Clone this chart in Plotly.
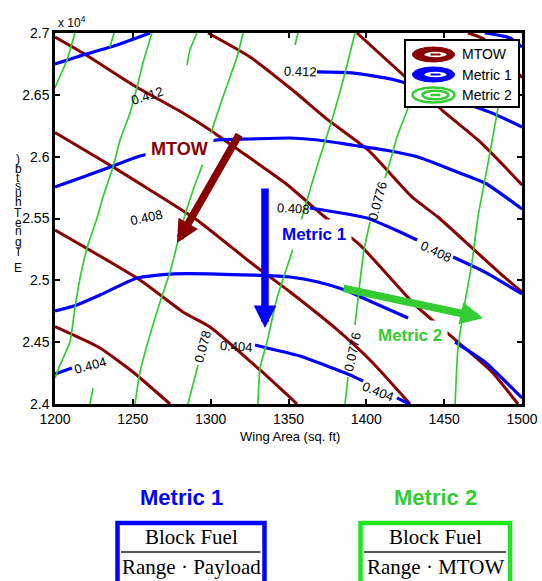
import plotly.graph_objects as go

# ---------------------------------------------------------------------------
# Contour lines: wing area (sq. ft) vs engine thrust (lbf)
# ---------------------------------------------------------------------------
MTOW_WING = [
    [1200, 1228.9, 1250.1, 1273.9],
    [1200, 1254.6, 1282.2, 1299.6, 1331.7, 1355.5],
    [1200, 1237.3, 1261.0, 1291.2, 1325.3, 1351.0, 1379.9, 1403.6, 1428.1],
    [1200, 1218.0, 1250.1, 1282.2, 1299.6, 1318.8, 1347.8, 1373.4, 1395.9, 1431.3, 1458.9, 1480.7, 1497.4],
    [1298.3, 1325.3, 1351.0, 1375.4, 1401.1, 1429.3, 1446.0, 1467.9, 1487.2, 1500],
    [1394.0, 1448.6, 1471.7, 1489.1, 1500],
    [1465.3, 1475.0, 1500],
]
MTOW_THRUST = [
    [24625, 24453, 24259, 24000],
    [25407, 25003, 24744, 24623, 24275, 24000],
    [26195, 25916, 25731, 25488, 25148, 24906, 24615, 24340, 24000],
    [26968, 26838, 26580, 26353, 26216, 26046, 25787, 25512, 25286, 24801, 24501, 24259, 24000],
    [27000, 26806, 26555, 26297, 26054, 25674, 25512, 25262, 25043, 24906],
    [27000, 26377, 26135, 25916, 25771],
    [27000, 26955, 26640],
]

METRIC1_WING = [
    [1200, 1218.0, 1239.8, 1261.0],
    [1368.3, 1390.8, 1418.4, 1480.7, 1500],
    [1476.2, 1492.3, 1500],
    [1200, 1218.0, 1237.3, 1254.6, 1304.1, 1325.3, 1351.0, 1369.0, 1390.8, 1412.0, 1433.2, 1455.0, 1476.2, 1500],
    [1363.8, 1400.4, 1421.6, 1432.6],
    [1455.7, 1476.2, 1500],
    [1200, 1214.1, 1228.9, 1252.7, 1273.9, 1304.1, 1351.0, 1369.0, 1386.3, 1403.6, 1426.8],
    [1457.0, 1476.2, 1500],
    [1200, 1210.9],
    [1328.5, 1336.2, 1357.4, 1389.5, 1397.9],
    [1419.7, 1427.5],
]
METRIC1_THRUST = [
    [26749, 26822, 26903, 27000],
    [26685, 26677, 26620, 26353, 26240],
    [27000, 26960, 26887],
    [25755, 25836, 25925, 26005, 26135, 26143, 26151, 26135, 26094, 26054, 25997, 25892, 25787, 25577],
    [25585, 25504, 25391, 25326],
    [25189, 25067, 24890],
    [24752, 24801, 24881, 25019, 25051, 25051, 25027, 24987, 24922, 24825, 24696],
    [24501, 24340, 24049],
    [24243, 24291],
    [24477, 24453, 24388, 24235, 24186],
    [24049, 24000],
]

METRIC2_WING = [
    [1212.8, 1207.7, 1201.3, 1200],
    [1237.9, 1235.3],
    [1262.3, 1256.5, 1252.7, 1248.2, 1241.8, 1237.3, 1230.8, 1227.0, 1220.6, 1216.1, 1212.8, 1209.6, 1203.2, 1200],
    [1291.2, 1286.7, 1284.8],
    [1320.8, 1316.9, 1307.9, 1301.5, 1295.1, 1288.7, 1283.5, 1278.4, 1273.9, 1267.5, 1261.0, 1254.6, 1251.4],
    [1356.1, 1354.2],
    [1392.7, 1386.3, 1377.9, 1369.0, 1360.6, 1355.5, 1351.0, 1342.6, 1336.2, 1331.7, 1330.4],
    [1426.8, 1419.7, 1416.5, 1412.0],
    [1402.4, 1398.5, 1395.9, 1392.7],
    [1388.2, 1386.3],
    [1484.6, 1478.2, 1471.7, 1467.9, 1463.4, 1458.9, 1457.0],
    [1224.4, 1222.5],
    [1291.9, 1285.4],
]
METRIC2_THRUST = [
    [27000, 26782, 26596, 26555],
    [27000, 26887],
    [27000, 26757, 26563, 26353, 26135, 25916, 25674, 25504, 25262, 25019, 24776, 24501, 24315, 24210],
    [27000, 26863, 26741],
    [27000, 26806, 26482, 26240, 25949, 25731, 25528, 25286, 25067, 24825, 24558, 24259, 24000],
    [27000, 26903],
    [27000, 26677, 26297, 25949, 25593, 25367, 25181, 24857, 24501, 24291, 24000],
    [26394, 26159, 26014, 25828],
    [25472, 25245, 24987, 24639],
    [24218, 24000],
    [26394, 25949, 25512, 25148, 24825, 24453, 24000],
    [24129, 24000],
    [24315, 24000],
]

# Inline contour labels
LABEL_TEXT = ["0.412", "0.412", "0.408", "0.408", "0.408", "0.0776",
              "0.078", "0.404", "0.404", "0.0776", "0.404"]
LABEL_WING = [1259.7, 1358.0, 1258.5, 1352.9, 1444.8, 1407.5,
              1295.1, 1316.9, 1222.5, 1391.4, 1407.5]
LABEL_THRUST = [26491, 26685, 25512, 25577, 25237, 25642,
                24461, 24469, 24315, 24421, 24105]
LABEL_ANGLE = [-18, 2, -12, 3, 25, -75, -75, 3, -15, -78, 22]

# Direction-of-improvement arrows
ARROW_NAMES = ["MTOW", "Metric 1", "Metric 2"]
ARROW_TAIL_WING = [1318.8, 1334.9, 1384.4]
ARROW_TAIL_THRUST = [26191, 25755, 24938]
ARROW_TIP_WING = [1278.4, 1334.9, 1474.9]
ARROW_TIP_THRUST = [25302, 24615, 24696]
ARROW_TEXT_WING = [1279.7, 1366.4, 1428.1]
ARROW_TEXT_THRUST = [26062, 25367, 24550]

X_TICKS = [1200, 1250, 1300, 1350, 1400, 1450, 1500]
Y_TICKS = [24000, 24500, 25000, 25500, 26000, 26500, 27000]
Y_TICK_TEXT = ["2.4", "2.45", "2.5", "2.55", "2.6", "2.65", "2.7"]

# Y-axis title glyphs, stacked top to bottom
Y_TITLE_GLYPHS = [")", "b", "t", "s", "u", "h", "T", "e", "n", "g", "i", "E"]
Y_TITLE_ROWS = [159, 169, 178, 186, 193, 202, 213, 223, 231, 242, 252, 268]

LEGEND_NAMES = ["MTOW", "Metric 1", "Metric 2"]

RED = "#880000"
BLUE = "#0000ff"
GREEN = "#33cc33"
BOX_GREEN = "#1ee61e"
SANS = "Liberation Sans, Arial, Helvetica, sans-serif"
SERIF = "Liberation Serif, Times New Roman, serif"

# Plot-area geometry in pixels, used for the legend and the panel below the axes
PLOT_L, PLOT_T, PLOT_W, PLOT_H = 55, 33, 467, 371
FIG_W, FIG_H = 542, 581


def px(x):
    return (x - PLOT_L) / PLOT_W


def py(y):
    return (PLOT_T + PLOT_H - y) / PLOT_H


def paper_text(x, y, text, size, color="black", family=SANS, xanchor="center", **kw):
    return dict(x=px(x), y=py(y), xref="paper", yref="paper", text=text,
                showarrow=False, xanchor=xanchor, yanchor="middle",
                font=dict(size=size, color=color, family=family), **kw)


fig = go.Figure()

families = [
    (MTOW_WING, MTOW_THRUST, RED, 3.0),
    (METRIC1_WING, METRIC1_THRUST, BLUE, 3.2),
    (METRIC2_WING, METRIC2_THRUST, GREEN, 1.7),
]
for wings, thrusts, color, width in families:
    for xs, ys in zip(wings, thrusts):
        fig.add_trace(go.Scatter(
            x=xs, y=ys, mode="lines",
            line=dict(color=color, width=width, shape="spline", smoothing=0.5),
            hoverinfo="skip", showlegend=False,
        ))

annotations = []
for t, xw, yt, ang in zip(LABEL_TEXT, LABEL_WING, LABEL_THRUST, LABEL_ANGLE):
    annotations.append(dict(
        x=xw, y=yt, xref="x", yref="y", text=t, showarrow=False,
        xanchor="center", yanchor="middle",
        textangle=ang, font=dict(size=13, color="black", family=SANS),
    ))

arrow_colors = [RED, BLUE, GREEN]
text_sizes = [18, 17, 17]
for name, xw, yt, c, s in zip(ARROW_NAMES, ARROW_TEXT_WING, ARROW_TEXT_THRUST,
                              arrow_colors, text_sizes):
    annotations.append(dict(
        x=xw, y=yt, xref="x", yref="y", text="<b>%s</b>" % name,
        showarrow=False, bgcolor="white", borderpad=5,
        xanchor="center", yanchor="middle",
        font=dict(size=s, color=c, family=SANS),
    ))

for tx, ty, hx, hy, c in zip(ARROW_TAIL_WING, ARROW_TAIL_THRUST,
                             ARROW_TIP_WING, ARROW_TIP_THRUST, arrow_colors):
    annotations.append(dict(
        x=hx, y=hy, ax=tx, ay=ty, xref="x", yref="y", axref="x", ayref="y",
        text="", showarrow=True, arrowhead=2, arrowsize=0.6,
        arrowwidth=7.5, arrowcolor=c,
    ))

# Exponent note above the y axis
annotations.append(paper_text(56, 22, "x 10<sup>4</sup>", 12, xanchor="left"))

# x-axis title
annotations.append(paper_text(290, 437, "Wing Area (sq. ft)", 13))

# y-axis title glyphs
for g, row in zip(Y_TITLE_GLYPHS, Y_TITLE_ROWS):
    annotations.append(paper_text(18, row, g, 12))

shapes = []

# Legend box with concentric-ellipse contour icons
shapes.append(dict(type="rect", xref="paper", yref="paper", layer="above",
                   x0=px(405), x1=px(519), y0=py(107), y1=py(40),
                   fillcolor="white", line=dict(color="black", width=2)))


def ellipse(cx, cy, rx, ry, **kw):
    return dict(type="circle", xref="paper", yref="paper", layer="above",
                x0=px(cx - rx), x1=px(cx + rx), y0=py(cy + ry), y1=py(cy - ry), **kw)


def seg(x0, y0, x1, y1, color, width):
    return dict(type="line", xref="paper", yref="paper", layer="above",
                x0=px(x0), x1=px(x1), y0=py(y0), y1=py(y1),
                line=dict(color=color, width=width))


legend_rows = [54.5, 74.5, 95]
legend_colors = [RED, BLUE, GREEN]
for name, cy, c in zip(LEGEND_NAMES, legend_rows, legend_colors):
    cx = 433.5
    if c == GREEN:
        shapes.append(ellipse(cx, cy, 21, 7.5, fillcolor="white", line=dict(color=c, width=2.5)))
        shapes.append(ellipse(cx + 2, cy, 13, 4.2, fillcolor="white", line=dict(color=c, width=2.5)))
        shapes.append(seg(cx - 3, cy, cx + 7, cy, c, 2.5))
    else:
        shapes.append(ellipse(cx, cy, 21, 7.5, fillcolor=c, line=dict(color=c, width=1)))
        shapes.append(ellipse(cx + 2, cy, 12, 3.6, fillcolor="white", line=dict(color=c, width=1.5)))
        shapes.append(seg(cx - 3, cy, cx + 7, cy, c, 2))
    annotations.append(paper_text(460, cy, name, 14, xanchor="left"))

# Metric definitions below the chart
panel = [
    ("Metric 1", BLUE, BLUE, 181, 117.5, 264.5, "Range · Payload"),
    ("Metric 2", GREEN, BOX_GREEN, 435, 360.5, 510.0, "Range · MTOW"),
]
for title, tcolor, bcolor, tx, bx0, bx1, denom in panel:
    annotations.append(paper_text(tx, 497, "<b>%s</b>" % title, 22, color=tcolor))
    shapes.append(dict(type="rect", xref="paper", yref="paper", layer="above",
                       x0=px(bx0), x1=px(bx1), y0=py(600), y1=py(523),
                       fillcolor="white", line=dict(color=bcolor, width=4.5)))
    shapes.append(seg(bx0 + 3.5, 552, bx1 - 4, 552, "#555555", 2))
    cx = (bx0 + bx1) / 2
    annotations.append(paper_text(cx, 537, "Block Fuel", 21, family=SERIF))
    annotations.append(paper_text(cx, 567, denom, 21, family=SERIF))

axis_common = dict(
    showgrid=False, zeroline=False, showline=True, linecolor="black",
    linewidth=2.5, mirror="allticks", ticks="inside", ticklen=5,
    tickwidth=2, tickcolor="black", automargin=False,
    tickfont=dict(size=14, color="black", family=SANS),
)

fig.update_layout(
    template="none",
    width=FIG_W, height=FIG_H, autosize=False,
    margin=dict(l=PLOT_L, r=FIG_W - PLOT_L - PLOT_W, t=PLOT_T, b=FIG_H - PLOT_T - PLOT_H),
    plot_bgcolor="white", paper_bgcolor="white",
    showlegend=False,
    xaxis=dict(range=[1200, 1500], tickmode="array", tickvals=X_TICKS, **axis_common),
    yaxis=dict(range=[24000, 27000], tickmode="array", tickvals=Y_TICKS,
               ticktext=Y_TICK_TEXT, **axis_common),
    annotations=annotations,
    shapes=shapes,
)

fig.write_html("out.html")
